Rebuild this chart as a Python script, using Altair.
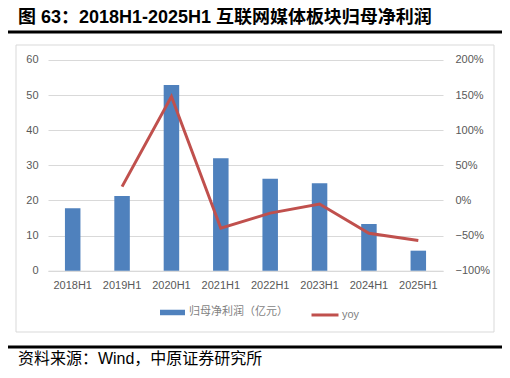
import altair as alt
import pandas as pd

categories = ["2018H1", "2019H1", "2020H1", "2021H1", "2022H1", "2023H1", "2024H1", "2025H1"]
profit = [17.8, 21.3, 52.9, 32.0, 26.2, 24.9, 13.3, 5.7]
yoy = [None, 0.197, 1.48, -0.395, -0.18, -0.05, -0.466, -0.57]

bar_name = "归母净利润（亿元）"
line_name = "yoy"
title_text = "图 63：2018H1-2025H1 互联网媒体板块归母净利润"
source_text = "资料来源：Wind，中原证券研究所"

df = pd.DataFrame({"cat": categories, "profit": profit, "yoy": yoy,
                   "s1": [bar_name] * 8, "s2": [line_name] * 8})

GREY = "#595959"
GRID = "#D9D9D9"
LATIN = "Liberation Sans"
CJK = "Noto Sans CJK SC"
MIXED = "Liberation Sans, Noto Sans CJK SC"

x_enc = alt.X("cat:N", sort=categories, title=None,
              scale=alt.Scale(paddingInner=0.686, paddingOuter=0.343),
              axis=alt.Axis(labelAngle=0, ticks=False, domain=True, domainColor=GRID,
                            labelColor=GREY, labelFont=LATIN, labelFontSize=11,
                            labelPadding=9, grid=False))

bars = alt.Chart(df).mark_bar(color="#4F81BD").encode(
    x=x_enc,
    y=alt.Y("profit:Q", title=None,
            scale=alt.Scale(domain=[0, 60], nice=False),
            axis=alt.Axis(values=[0, 10, 20, 30, 40, 50, 60], domain=False, ticks=False,
                          labelColor=GREY, labelFont=LATIN, labelFontSize=11,
                          labelPadding=10, gridColor=GRID, gridWidth=1)),
    color=alt.Color("s1:N", title=None,
                    scale=alt.Scale(range=["#4F81BD"]),
                    legend=alt.Legend(orient="none", legendX=112, legendY=240,
                                      symbolType="M-1,-0.22H1V0.22H-1Z", symbolSize=625,
                                      symbolStrokeWidth=0, labelFont=CJK, labelFontSize=11,
                                      labelColor="#7F7F7F", labelOffset=4)),
)

line = alt.Chart(df).mark_line(strokeWidth=3).encode(
    x=x_enc,
    y=alt.Y("yoy:Q", title=None,
            scale=alt.Scale(domain=[-1, 2], nice=False),
            axis=alt.Axis(orient="right", format=".0%",
                          values=[-1, -0.5, 0, 0.5, 1, 1.5, 2], domain=False, ticks=False,
                          grid=False, labelColor=GREY, labelFont=LATIN, labelFontSize=11,
                          labelPadding=12)),
    stroke=alt.Stroke("s2:N", title=None,
                      scale=alt.Scale(range=["#C0504D"]),
                      legend=alt.Legend(orient="none", legendX=262, legendY=240,
                                        symbolType="stroke", symbolSize=729,
                                        symbolStrokeWidth=3, labelFont=LATIN, labelFontSize=11,
                                        labelColor="#7F7F7F", labelOffset=2)),
)

deco_df = pd.DataFrame({"t": [0]})
border = alt.Chart(deco_df).mark_rect(fill="transparent", stroke=GRID, strokeWidth=1).encode(
    x=alt.value(-32), x2=alt.value(446), y=alt.value(-15), y2=alt.value(272))
rule_top = alt.Chart(deco_df).mark_rule(color="black", strokeWidth=3).encode(
    x=alt.value(-43), x2=alt.value(457), y=alt.value(-28))
rule_bot = alt.Chart(deco_df).mark_rule(color="black", strokeWidth=3).encode(
    x=alt.value(-43), x2=alt.value(457), y=alt.value(287))
title = alt.Chart(deco_df).mark_text(text=title_text, font=MIXED, fontSize=18, fontWeight="bold",
                                     align="left", baseline="middle", color="black").encode(
    x=alt.value(-30), y=alt.value(-42))
source = alt.Chart(deco_df).mark_text(text=source_text, font=MIXED, fontSize=16,
                                      align="left", baseline="middle", color="black").encode(
    x=alt.value(-30), y=alt.value(299))

chart = alt.layer(border, bars, line, rule_top, rule_bot, title, source).resolve_scale(
    y="independent", color="independent", stroke="independent"
).properties(
    width=395, height=210.7,
    padding={"left": 40, "top": 52, "right": 59, "bottom": 99},
    autosize=alt.AutoSizeParams(type="none"),
    background="white",
).configure_view(stroke=None)

chart.save("out.html", embed_options={"renderer": "svg", "actions": False})
